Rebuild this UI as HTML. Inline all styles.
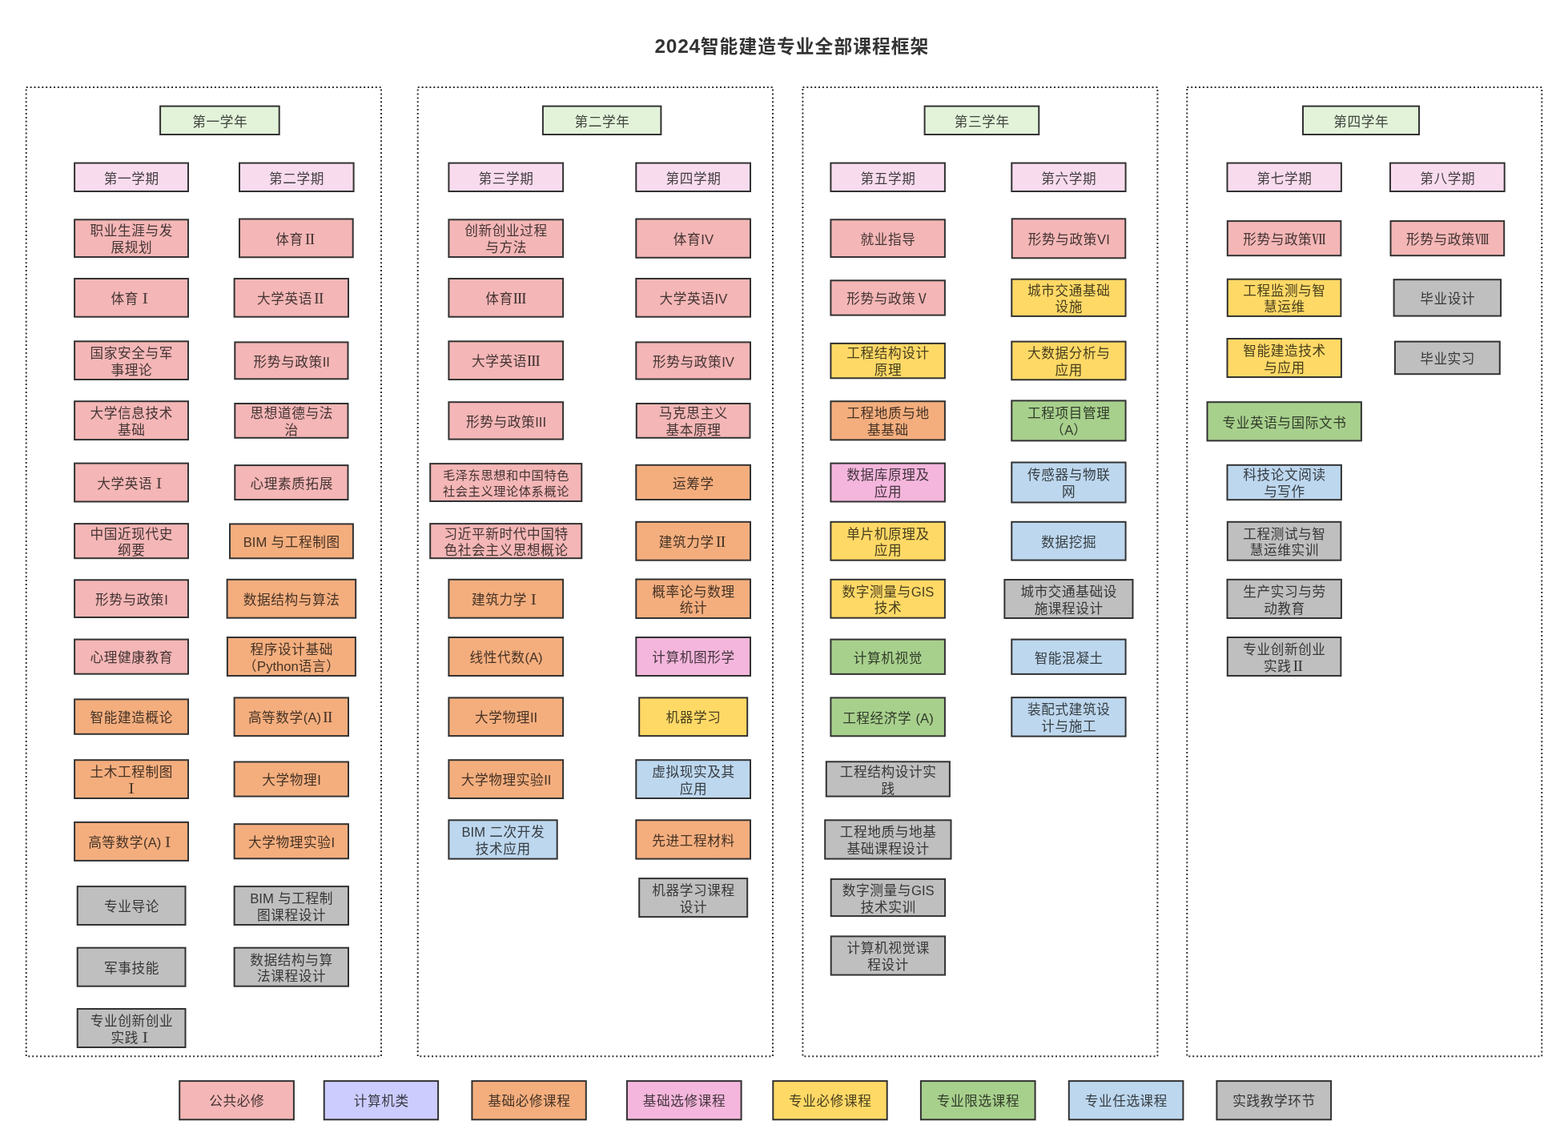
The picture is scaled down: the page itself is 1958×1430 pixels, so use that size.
<!DOCTYPE html>
<html lang="zh-CN">
<head>
<meta charset="utf-8">
<title>2024智能建造专业全部课程框架</title>
<style>
html,body{margin:0;padding:0;background:#fff}
body{width:1958px;height:1430px;position:relative;overflow:hidden;font-family:"Liberation Sans","Noto Sans CJK SC",sans-serif;color:#4a4a4a}
#shapes{position:absolute;left:0;top:0;width:1958px;height:1430px}
#shapes rect{stroke:#323232;stroke-width:2}
#shapes .panel{fill:none;stroke-dasharray:2 2.9}
#labels{position:absolute;left:0;top:0;width:1958px;height:1430px;will-change:transform;mix-blend-mode:multiply}
h1{position:absolute;margin:0;left:817.5px;top:40px;font-size:22.75px;line-height:36px;font-weight:bold;white-space:nowrap;letter-spacing:1.05px;color:#333333}
h1 .num{font-size:24.5px;letter-spacing:0.7px}
.b{position:absolute;display:flex;align-items:center;justify-content:center;text-align:center;white-space:nowrap;font-size:16.65px;line-height:20.8px;letter-spacing:0.6px}
.b p{margin:0}
.lat{letter-spacing:0px}
.rn{font-family:"Liberation Serif","Noto Serif CJK SC","Noto Sans CJK SC",serif;font-weight:600;line-height:0}
.yr{fill:#e2f3d9}
.sem{fill:#f8dcee}
.pk{fill:#f4b6b6}
.pu{fill:#ccccff}
.og{fill:#f4ae7e}
.mg{fill:#f4b6dc}
.ye{fill:#ffd966}
.gn{fill:#a8d08d}
.bl{fill:#bdd7ee}
.gy{fill:#bfbfbf}
</style>
</head>
<body>
<svg id="shapes" width="1958" height="1430" viewBox="0 0 1958 1430">
<rect class="panel" x="32.7" y="109" width="443.3" height="1210.3"/>
<rect class="panel" x="521.7" y="109" width="443.3" height="1210.3"/>
<rect class="panel" x="1002.4" y="109" width="443" height="1210.3"/>
<rect class="panel" x="1482.3" y="109" width="443" height="1210.3"/>
<rect class="yr" x="200.1" y="132.6" width="148.6" height="35.4"/>
<rect class="sem" x="93.1" y="203.6" width="141.9" height="35.4"/>
<rect class="pk" x="93.1" y="274.3" width="141.9" height="46.7"/>
<rect class="pk" x="93.1" y="348" width="141.9" height="47.7"/>
<rect class="pk" x="93.1" y="426.3" width="141.9" height="47.7"/>
<rect class="pk" x="93.1" y="501.2" width="141.9" height="47.9"/>
<rect class="pk" x="93.1" y="578.6" width="141.9" height="47.9"/>
<rect class="pk" x="93.1" y="654.1" width="141.9" height="43.1"/>
<rect class="pk" x="93.1" y="724.3" width="141.9" height="46.7"/>
<rect class="pk" x="93.1" y="798.6" width="141.9" height="43.1"/>
<rect class="og" x="93.1" y="873.4" width="141.9" height="43.4"/>
<rect class="og" x="93.1" y="949.2" width="141.9" height="47.8"/>
<rect class="og" x="93.1" y="1026.9" width="141.9" height="48"/>
<rect class="gy" x="96.7" y="1107.1" width="134.8" height="47.9"/>
<rect class="gy" x="96.7" y="1183.7" width="134.8" height="48"/>
<rect class="gy" x="96.7" y="1260" width="134.8" height="48"/>
<rect class="sem" x="299" y="203.6" width="142.6" height="35.4"/>
<rect class="pk" x="299" y="273.5" width="141.7" height="47.8"/>
<rect class="pk" x="292.6" y="348" width="142.4" height="47.7"/>
<rect class="pk" x="293.3" y="427.4" width="141.2" height="45.9"/>
<rect class="pk" x="293.3" y="504" width="141.2" height="42.8"/>
<rect class="pk" x="293.3" y="581.1" width="141.2" height="42.9"/>
<rect class="og" x="287" y="654.4" width="153.9" height="42.9"/>
<rect class="og" x="283.6" y="723.8" width="160.6" height="47.9"/>
<rect class="og" x="283.9" y="796" width="160" height="48"/>
<rect class="og" x="292.6" y="871.4" width="142.4" height="47.7"/>
<rect class="og" x="292.6" y="951.5" width="142.4" height="43.1"/>
<rect class="og" x="292.6" y="1029.2" width="142.4" height="43.1"/>
<rect class="gy" x="292.6" y="1107.1" width="142.4" height="47.9"/>
<rect class="gy" x="292.6" y="1183.7" width="142.4" height="48"/>
<rect class="yr" x="677.9" y="132.6" width="147.5" height="35.4"/>
<rect class="sem" x="560.4" y="203.6" width="142.7" height="35.4"/>
<rect class="pk" x="560.4" y="274.3" width="142.7" height="46.7"/>
<rect class="pk" x="560.4" y="348" width="142.7" height="47.7"/>
<rect class="pk" x="560.4" y="426.3" width="142.7" height="47.7"/>
<rect class="pk" x="560.4" y="502.2" width="142.7" height="46.4"/>
<rect class="pk" x="537.2" y="579.1" width="189.1" height="46.9"/>
<rect class="pk" x="537.2" y="654.1" width="189.1" height="43.1"/>
<rect class="og" x="560.4" y="723.8" width="142.7" height="47.9"/>
<rect class="og" x="560.4" y="796" width="142.7" height="48"/>
<rect class="og" x="560.4" y="871.4" width="142.7" height="47.7"/>
<rect class="og" x="560.4" y="949.2" width="142.7" height="47.8"/>
<rect class="bl" x="560.4" y="1024.3" width="135.3" height="48.3"/>
<rect class="sem" x="794.3" y="203.6" width="142.7" height="35.4"/>
<rect class="pk" x="794.3" y="273.5" width="142.7" height="48.3"/>
<rect class="pk" x="794.3" y="348" width="142.7" height="47.7"/>
<rect class="pk" x="794.3" y="427.4" width="142.7" height="46.1"/>
<rect class="pk" x="794.8" y="504" width="141.7" height="42.8"/>
<rect class="og" x="794.3" y="580.8" width="142.7" height="43.2"/>
<rect class="og" x="794.3" y="651.8" width="142.7" height="47.9"/>
<rect class="og" x="794.3" y="723.5" width="142.7" height="48.5"/>
<rect class="mg" x="794.3" y="796" width="142.7" height="48"/>
<rect class="ye" x="798.2" y="871.4" width="135" height="47.7"/>
<rect class="bl" x="794.3" y="949.2" width="142.7" height="47.8"/>
<rect class="og" x="794.3" y="1024.3" width="142.7" height="48.3"/>
<rect class="gy" x="798.2" y="1097.1" width="135" height="48"/>
<rect class="yr" x="1154.6" y="132.6" width="142.7" height="35.4"/>
<rect class="sem" x="1037.4" y="203.6" width="142.5" height="35.4"/>
<rect class="pk" x="1037.4" y="274.3" width="142.5" height="46.7"/>
<rect class="pk" x="1037.4" y="350.3" width="142.5" height="43.3"/>
<rect class="ye" x="1037.4" y="428.9" width="142.5" height="43.4"/>
<rect class="og" x="1037.4" y="501.2" width="142.5" height="48.2"/>
<rect class="mg" x="1037.4" y="578.6" width="142.5" height="47.9"/>
<rect class="ye" x="1037.4" y="651.8" width="142.5" height="47.9"/>
<rect class="ye" x="1037.4" y="723.8" width="142.5" height="47.9"/>
<rect class="gn" x="1037.4" y="798.6" width="142.5" height="43.3"/>
<rect class="gn" x="1037.4" y="871.4" width="142.5" height="47.9"/>
<rect class="gy" x="1031.8" y="951.3" width="154.1" height="43.3"/>
<rect class="gy" x="1030.2" y="1024.3" width="157.3" height="48.3"/>
<rect class="gy" x="1037.7" y="1097.9" width="142.4" height="46.2"/>
<rect class="gy" x="1037.7" y="1169.4" width="142.4" height="48.2"/>
<rect class="sem" x="1263.3" y="203.6" width="142.3" height="35.4"/>
<rect class="pk" x="1263.7" y="273.3" width="141.6" height="49"/>
<rect class="ye" x="1263.3" y="348.7" width="142.3" height="46.2"/>
<rect class="ye" x="1263.3" y="426.6" width="142.3" height="47.7"/>
<rect class="gn" x="1263.3" y="500.4" width="142.3" height="50"/>
<rect class="bl" x="1263.3" y="577.5" width="142.3" height="50"/>
<rect class="bl" x="1263.3" y="651.8" width="142.3" height="47.8"/>
<rect class="gy" x="1254.4" y="724" width="160.1" height="48"/>
<rect class="bl" x="1263.3" y="798.6" width="142.3" height="43.3"/>
<rect class="bl" x="1263.3" y="871.1" width="142.3" height="48.5"/>
<rect class="yr" x="1627" y="132.6" width="145" height="35.4"/>
<rect class="sem" x="1532.5" y="203.6" width="142.4" height="35.4"/>
<rect class="pk" x="1532.8" y="276.1" width="141.6" height="43.1"/>
<rect class="ye" x="1532.8" y="348.7" width="141.6" height="46.2"/>
<rect class="ye" x="1532.5" y="423" width="142.4" height="48"/>
<rect class="gn" x="1507.5" y="502.2" width="192.4" height="48.2"/>
<rect class="bl" x="1532.5" y="580.8" width="142.4" height="43.4"/>
<rect class="gy" x="1532.8" y="651.8" width="141.6" height="47.9"/>
<rect class="gy" x="1532.5" y="723.8" width="142.4" height="48.2"/>
<rect class="gy" x="1532.8" y="796" width="141.6" height="48"/>
<rect class="sem" x="1736" y="203.6" width="142.7" height="35.4"/>
<rect class="pk" x="1736.5" y="276.1" width="141.7" height="43.1"/>
<rect class="gy" x="1740.6" y="349.2" width="133.5" height="45.4"/>
<rect class="gy" x="1741.9" y="426.6" width="130.9" height="40.6"/>
<rect class="pk" x="224.2" y="1350.1" width="142.7" height="48.2"/>
<rect class="pu" x="404.7" y="1350.1" width="142.4" height="48.2"/>
<rect class="og" x="589.4" y="1350.1" width="142.4" height="48.2"/>
<rect class="mg" x="782.9" y="1350.1" width="142.7" height="48.2"/>
<rect class="ye" x="965.3" y="1350.1" width="142.4" height="48.2"/>
<rect class="gn" x="1149.9" y="1350.1" width="142.7" height="48.2"/>
<rect class="bl" x="1334.8" y="1350.1" width="142.6" height="48.2"/>
<rect class="gy" x="1519.4" y="1350.1" width="142.7" height="48.2"/>
</svg>
<div id="labels">
<h1><span class="num">2024</span>智能建造专业全部课程框架</h1>
<div class="b" style="left:199.4px;top:134.25px;width:150.6px;height:37.4px"><p>第一学年</p></div>
<div class="b" style="left:92.4px;top:205.25px;width:143.9px;height:37.4px"><p>第一学期</p></div>
<div class="b" style="left:92.4px;top:275.95px;width:143.9px;height:48.7px"><p>职业生涯与发<br>展规划</p></div>
<div class="b" style="left:92.4px;top:349.65px;width:143.9px;height:49.7px"><p>体育<span class="rn">Ⅰ</span></p></div>
<div class="b" style="left:92.4px;top:427.95px;width:143.9px;height:49.7px"><p>国家安全与军<br>事理论</p></div>
<div class="b" style="left:92.4px;top:502.85px;width:143.9px;height:49.9px"><p>大学信息技术<br>基础</p></div>
<div class="b" style="left:92.4px;top:580.25px;width:143.9px;height:49.9px"><p>大学英语<span class="rn">Ⅰ</span></p></div>
<div class="b" style="left:92.4px;top:655.75px;width:143.9px;height:45.1px"><p>中国近现代史<br>纲要</p></div>
<div class="b" style="left:92.4px;top:725.95px;width:143.9px;height:48.7px"><p>形势与政策<span class="lat">I</span></p></div>
<div class="b" style="left:92.4px;top:800.25px;width:143.9px;height:45.1px"><p>心理健康教育</p></div>
<div class="b" style="left:92.4px;top:875.05px;width:143.9px;height:45.4px"><p>智能建造概论</p></div>
<div class="b" style="left:92.4px;top:950.85px;width:143.9px;height:49.8px"><p>土木工程制图<br><span class="rn">Ⅰ</span></p></div>
<div class="b" style="left:92.4px;top:1028.55px;width:143.9px;height:50px"><p>高等数学<span class="lat">(A)</span><span class="rn">Ⅰ</span></p></div>
<div class="b" style="left:96px;top:1108.75px;width:136.8px;height:49.9px"><p>专业导论</p></div>
<div class="b" style="left:96px;top:1185.35px;width:136.8px;height:50px"><p>军事技能</p></div>
<div class="b" style="left:96px;top:1261.65px;width:136.8px;height:50px"><p>专业创新创业<br>实践<span class="rn">Ⅰ</span></p></div>
<div class="b" style="left:298.3px;top:205.25px;width:144.6px;height:37.4px"><p>第二学期</p></div>
<div class="b" style="left:298.3px;top:275.15px;width:143.7px;height:49.8px"><p>体育<span class="rn">Ⅱ</span></p></div>
<div class="b" style="left:291.9px;top:349.65px;width:144.4px;height:49.7px"><p>大学英语<span class="rn">Ⅱ</span></p></div>
<div class="b" style="left:292.6px;top:429.05px;width:143.2px;height:47.9px"><p>形势与政策<span class="lat">II</span></p></div>
<div class="b" style="left:292.6px;top:505.65px;width:143.2px;height:44.8px"><p>思想道德与法<br>治</p></div>
<div class="b" style="left:292.6px;top:582.75px;width:143.2px;height:44.9px"><p>心理素质拓展</p></div>
<div class="b" style="left:286.3px;top:656.05px;width:155.9px;height:44.9px"><p><span class="lat">BIM</span> 与工程制图</p></div>
<div class="b" style="left:282.9px;top:725.45px;width:162.6px;height:49.9px"><p>数据结构与算法</p></div>
<div class="b" style="left:283.2px;top:797.65px;width:162px;height:50px"><p>程序设计基础<br>（<span class="lat">Python</span>语言）</p></div>
<div class="b" style="left:291.9px;top:873.05px;width:144.4px;height:49.7px"><p>高等数学<span class="lat">(A)</span><span class="rn">Ⅱ</span></p></div>
<div class="b" style="left:291.9px;top:953.15px;width:144.4px;height:45.1px"><p>大学物理<span class="lat">I</span></p></div>
<div class="b" style="left:291.9px;top:1030.85px;width:144.4px;height:45.1px"><p>大学物理实验<span class="lat">I</span></p></div>
<div class="b" style="left:291.9px;top:1108.75px;width:144.4px;height:49.9px"><p><span class="lat">BIM</span> 与工程制<br>图课程设计</p></div>
<div class="b" style="left:291.9px;top:1185.35px;width:144.4px;height:50px"><p>数据结构与算<br>法课程设计</p></div>
<div class="b" style="left:677.2px;top:134.25px;width:149.5px;height:37.4px"><p>第二学年</p></div>
<div class="b" style="left:559.7px;top:205.25px;width:144.7px;height:37.4px"><p>第三学期</p></div>
<div class="b" style="left:559.7px;top:275.95px;width:144.7px;height:48.7px"><p>创新创业过程<br>与方法</p></div>
<div class="b" style="left:559.7px;top:349.65px;width:144.7px;height:49.7px"><p>体育<span class="rn">Ⅲ</span></p></div>
<div class="b" style="left:559.7px;top:427.95px;width:144.7px;height:49.7px"><p>大学英语<span class="rn">Ⅲ</span></p></div>
<div class="b" style="left:559.7px;top:503.85px;width:144.7px;height:48.4px"><p>形势与政策<span class="lat">III</span></p></div>
<div class="b" style="left:536.48px;top:579.35px;width:191.1px;height:48.9px;font-size:15.25px;line-height:19.45px;letter-spacing:0.55px"><p>毛泽东思想和中国特色<br>社会主义理论体系概论</p></div>
<div class="b" style="left:536.5px;top:655.75px;width:191.1px;height:45.1px"><p>习近平新时代中国特<br>色社会主义思想概论</p></div>
<div class="b" style="left:559.7px;top:725.45px;width:144.7px;height:49.9px"><p>建筑力学<span class="rn">Ⅰ</span></p></div>
<div class="b" style="left:559.7px;top:797.65px;width:144.7px;height:50px"><p>线性代数<span class="lat">(A)</span></p></div>
<div class="b" style="left:559.7px;top:873.05px;width:144.7px;height:49.7px"><p>大学物理<span class="lat">II</span></p></div>
<div class="b" style="left:559.7px;top:950.85px;width:144.7px;height:49.8px"><p>大学物理实验<span class="lat">II</span></p></div>
<div class="b" style="left:559.7px;top:1025.95px;width:137.3px;height:50.3px"><p><span class="lat">BIM</span> 二次开发<br>技术应用</p></div>
<div class="b" style="left:793.6px;top:205.25px;width:144.7px;height:37.4px"><p>第四学期</p></div>
<div class="b" style="left:793.6px;top:275.15px;width:144.7px;height:50.3px"><p>体育<span class="lat">IV</span></p></div>
<div class="b" style="left:793.6px;top:349.65px;width:144.7px;height:49.7px"><p>大学英语<span class="lat">IV</span></p></div>
<div class="b" style="left:793.6px;top:429.05px;width:144.7px;height:48.1px"><p>形势与政策<span class="lat">IV</span></p></div>
<div class="b" style="left:794.1px;top:505.65px;width:143.7px;height:44.8px"><p>马克思主义<br>基本原理</p></div>
<div class="b" style="left:793.6px;top:582.45px;width:144.7px;height:45.2px"><p>运筹学</p></div>
<div class="b" style="left:793.6px;top:653.45px;width:144.7px;height:49.9px"><p>建筑力学<span class="rn">Ⅱ</span></p></div>
<div class="b" style="left:793.6px;top:725.15px;width:144.7px;height:50.5px"><p>概率论与数理<br>统计</p></div>
<div class="b" style="left:793.6px;top:797.65px;width:144.7px;height:50px"><p>计算机图形学</p></div>
<div class="b" style="left:797.5px;top:873.05px;width:137px;height:49.7px"><p>机器学习</p></div>
<div class="b" style="left:793.6px;top:950.85px;width:144.7px;height:49.8px"><p>虚拟现实及其<br>应用</p></div>
<div class="b" style="left:793.6px;top:1025.95px;width:144.7px;height:50.3px"><p>先进工程材料</p></div>
<div class="b" style="left:797.5px;top:1098.75px;width:137px;height:50px"><p>机器学习课程<br>设计</p></div>
<div class="b" style="left:1153.9px;top:134.25px;width:144.7px;height:37.4px"><p>第三学年</p></div>
<div class="b" style="left:1036.7px;top:205.25px;width:144.5px;height:37.4px"><p>第五学期</p></div>
<div class="b" style="left:1036.7px;top:275.95px;width:144.5px;height:48.7px"><p>就业指导</p></div>
<div class="b" style="left:1036.7px;top:351.95px;width:144.5px;height:45.3px"><p>形势与政策Ⅴ</p></div>
<div class="b" style="left:1036.7px;top:430.55px;width:144.5px;height:45.4px"><p>工程结构设计<br>原理</p></div>
<div class="b" style="left:1036.7px;top:502.85px;width:144.5px;height:50.2px"><p>工程地质与地<br>基基础</p></div>
<div class="b" style="left:1036.7px;top:580.25px;width:144.5px;height:49.9px"><p>数据库原理及<br>应用</p></div>
<div class="b" style="left:1036.7px;top:653.45px;width:144.5px;height:49.9px"><p>单片机原理及<br>应用</p></div>
<div class="b" style="left:1036.7px;top:725.45px;width:144.5px;height:49.9px"><p>数字测量与<span class="lat">GIS</span><br>技术</p></div>
<div class="b" style="left:1036.7px;top:800.25px;width:144.5px;height:45.3px"><p>计算机视觉</p></div>
<div class="b" style="left:1036.7px;top:873.05px;width:144.5px;height:49.9px"><p>工程经济学 <span class="lat">(A)</span></p></div>
<div class="b" style="left:1031.1px;top:952.95px;width:156.1px;height:45.3px"><p>工程结构设计实<br>践</p></div>
<div class="b" style="left:1029.5px;top:1025.95px;width:159.3px;height:50.3px"><p>工程地质与地基<br>基础课程设计</p></div>
<div class="b" style="left:1037px;top:1099.55px;width:144.4px;height:48.2px"><p>数字测量与<span class="lat">GIS</span><br>技术实训</p></div>
<div class="b" style="left:1037px;top:1171.05px;width:144.4px;height:50.2px"><p>计算机视觉课<br>程设计</p></div>
<div class="b" style="left:1262.6px;top:205.25px;width:144.3px;height:37.4px"><p>第六学期</p></div>
<div class="b" style="left:1263px;top:274.95px;width:143.6px;height:51px"><p>形势与政策<span class="lat">VI</span></p></div>
<div class="b" style="left:1262.6px;top:350.35px;width:144.3px;height:48.2px"><p>城市交通基础<br>设施</p></div>
<div class="b" style="left:1262.6px;top:428.25px;width:144.3px;height:49.7px"><p>大数据分析与<br>应用</p></div>
<div class="b" style="left:1262.6px;top:502.05px;width:144.3px;height:52px"><p>工程项目管理<br>（<span class="lat">A</span>）</p></div>
<div class="b" style="left:1262.6px;top:579.15px;width:144.3px;height:52px"><p>传感器与物联<br>网</p></div>
<div class="b" style="left:1262.6px;top:653.45px;width:144.3px;height:49.8px"><p>数据挖掘</p></div>
<div class="b" style="left:1253.7px;top:725.65px;width:162.1px;height:50px"><p>城市交通基础设<br>施课程设计</p></div>
<div class="b" style="left:1262.6px;top:800.25px;width:144.3px;height:45.3px"><p>智能混凝土</p></div>
<div class="b" style="left:1262.6px;top:872.75px;width:144.3px;height:50.5px"><p>装配式建筑设<br>计与施工</p></div>
<div class="b" style="left:1626.3px;top:134.25px;width:147px;height:37.4px"><p>第四学年</p></div>
<div class="b" style="left:1531.8px;top:205.25px;width:144.4px;height:37.4px"><p>第七学期</p></div>
<div class="b" style="left:1532.1px;top:277.75px;width:143.6px;height:45.1px"><p>形势与政策<span class="rn">Ⅶ</span></p></div>
<div class="b" style="left:1532.1px;top:350.35px;width:143.6px;height:48.2px"><p>工程监测与智<br>慧运维</p></div>
<div class="b" style="left:1531.8px;top:424.65px;width:144.4px;height:50px"><p>智能建造技术<br>与应用</p></div>
<div class="b" style="left:1506.8px;top:503.85px;width:194.4px;height:50.2px"><p>专业英语与国际文书</p></div>
<div class="b" style="left:1531.8px;top:582.45px;width:144.4px;height:45.4px"><p>科技论文阅读<br>与写作</p></div>
<div class="b" style="left:1532.1px;top:653.45px;width:143.6px;height:49.9px"><p>工程测试与智<br>慧运维实训</p></div>
<div class="b" style="left:1531.8px;top:725.45px;width:144.4px;height:50.2px"><p>生产实习与劳<br>动教育</p></div>
<div class="b" style="left:1532.1px;top:797.65px;width:143.6px;height:50px"><p>专业创新创业<br>实践<span class="rn">Ⅱ</span></p></div>
<div class="b" style="left:1735.3px;top:205.25px;width:144.7px;height:37.4px"><p>第八学期</p></div>
<div class="b" style="left:1735.8px;top:277.75px;width:143.7px;height:45.1px"><p>形势与政策<span class="rn">Ⅷ</span></p></div>
<div class="b" style="left:1739.9px;top:350.85px;width:135.5px;height:47.4px"><p>毕业设计</p></div>
<div class="b" style="left:1741.2px;top:428.25px;width:132.9px;height:42.6px"><p>毕业实习</p></div>
<div class="b" style="left:223.5px;top:1351.75px;width:144.7px;height:50.2px"><p>公共必修</p></div>
<div class="b" style="left:404px;top:1351.75px;width:144.4px;height:50.2px"><p>计算机类</p></div>
<div class="b" style="left:588.7px;top:1351.75px;width:144.4px;height:50.2px"><p>基础必修课程</p></div>
<div class="b" style="left:782.2px;top:1351.75px;width:144.7px;height:50.2px"><p>基础选修课程</p></div>
<div class="b" style="left:964.6px;top:1351.75px;width:144.4px;height:50.2px"><p>专业必修课程</p></div>
<div class="b" style="left:1149.2px;top:1351.75px;width:144.7px;height:50.2px"><p>专业限选课程</p></div>
<div class="b" style="left:1334.1px;top:1351.75px;width:144.6px;height:50.2px"><p>专业任选课程</p></div>
<div class="b" style="left:1518.7px;top:1351.75px;width:144.7px;height:50.2px"><p>实践教学环节</p></div>
</div>
</body>
</html>
